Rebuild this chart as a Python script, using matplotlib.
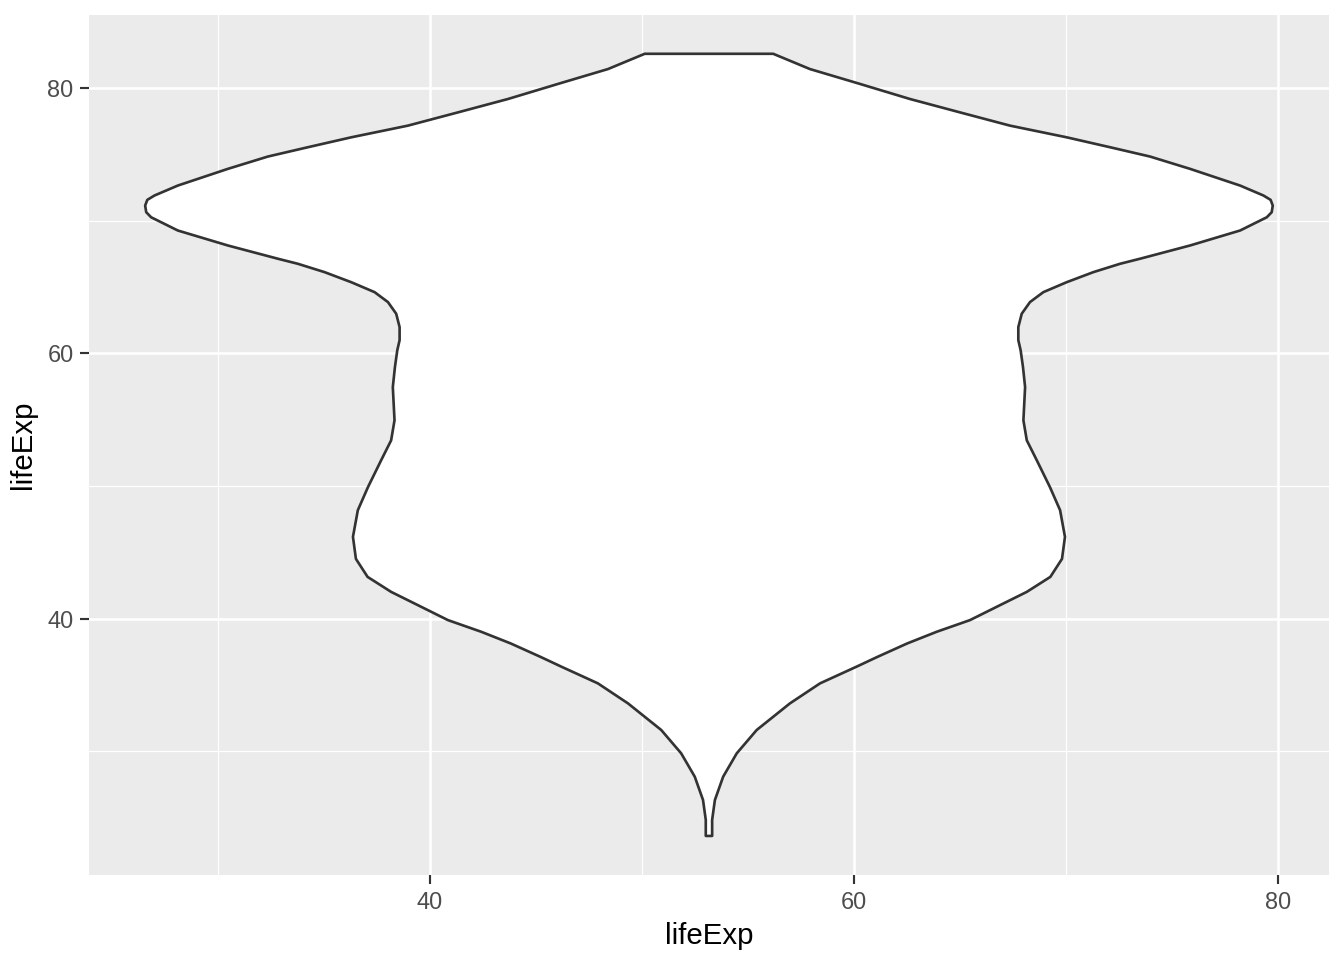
import matplotlib.pyplot as plt
import numpy as np

# violin outline: lifeExp value and half-width (in x units)
violin_y = [23.60, 24.81, 26.31, 28.07, 29.83, 31.59, 33.60, 35.11, 36.36, 37.11,
            38.12, 39.00, 39.88, 41.01, 42.01, 43.14, 44.50, 46.16, 48.17, 49.92,
            51.94, 53.44, 54.95, 57.46, 58.97, 60.23, 61.00, 61.98, 62.99, 63.87,
            64.62, 65.37, 66.13, 66.76, 67.14, 68.14, 69.27, 70.27, 70.65, 71.15,
            71.58, 71.91, 72.66, 73.92, 74.85, 75.55, 76.30, 77.18, 78.18, 79.19,
            80.40, 81.45, 82.60]
violin_halfwidth = [0.15, 0.15, 0.28, 0.67, 1.31, 2.25, 3.82, 5.24, 6.95, 7.95,
                    9.35, 10.74, 12.31, 13.73, 14.99, 16.10, 16.65, 16.79, 16.56, 16.08,
                    15.46, 14.99, 14.83, 14.91, 14.81, 14.70, 14.59, 14.59, 14.75, 15.14,
                    15.77, 16.87, 18.13, 19.39, 20.33, 22.69, 25.05, 26.31, 26.54, 26.59,
                    26.49, 26.15, 25.05, 22.69, 20.80, 18.92, 16.87, 14.20, 11.84, 9.48,
                    6.97, 4.76, 3.03]
violin_center = 53.16

x_ticks = [40, 60, 80]
y_ticks = [40, 60, 80]
minor_ticks = [30, 50, 70]

plt.rcParams["font.family"] = ["Liberation Sans", "DejaVu Sans"]

fig = plt.figure(figsize=(7, 5), dpi=192)
ax = fig.add_axes([0.0662, 0.0885, 0.9226, 0.8962])
ax.set_facecolor("#EBEBEB")

y = np.array(violin_y)
hw = np.array(violin_halfwidth)
xs = np.concatenate([violin_center + hw, (violin_center - hw)[::-1]])
ys = np.concatenate([y, y[::-1]])
ax.fill(xs, ys, facecolor="white", edgecolor="#333333", linewidth=1.0, zorder=3,
        joinstyle="round")

ax.set_xlim(23.92, 82.40)
ax.set_ylim(20.65, 85.55)
ax.set_xticks(x_ticks)
ax.set_yticks(y_ticks)
ax.set_xticks(minor_ticks, minor=True)
ax.set_yticks(minor_ticks, minor=True)
ax.grid(which="major", color="white", linewidth=0.95)
ax.grid(which="minor", color="white", linewidth=0.45)
ax.set_axisbelow(True)

for s in ax.spines.values():
    s.set_visible(False)
ax.tick_params(which="major", length=3.3, width=0.8, color="#333333",
               labelsize=8.8, labelcolor="#4D4D4D", pad=2.5)
ax.tick_params(which="minor", length=0)

ax.set_xlabel("lifeExp", fontsize=11, labelpad=3)
ax.set_ylabel("lifeExp", fontsize=11, labelpad=4)

fig.savefig("out.png", dpi=192)
